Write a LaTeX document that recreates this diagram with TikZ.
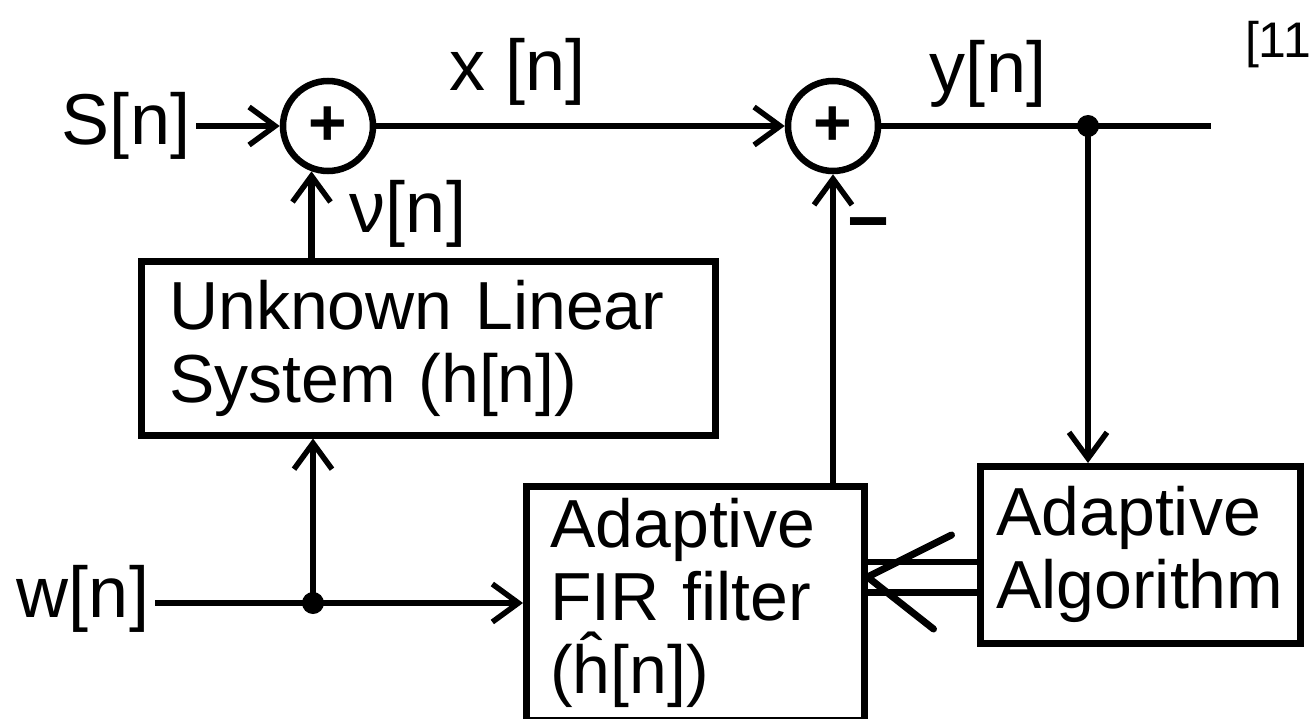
\documentclass[tikz,border=0pt]{standalone}
\usepackage{fontspec}
\setmainfont{Liberation Sans}
\usetikzlibrary{arrows.meta,calc}
\newcommand\blocktext{\fontsize{68}{73}\selectfont}
\newcommand\labeltext{\fontsize{72}{76}\selectfont}
\begin{document}
\begin{tikzpicture}[x=1pt,y=-1pt,
  wire/.style={line width=6.5pt},
  arr/.style={wire,-{Straight Barb[length=26pt,width=38pt,line width=5.5pt]}},
  blk/.style={draw,rectangle,line width=6.5pt,anchor=north west,inner ysep=0pt,align=left,font=\blocktext},
  summer/.style={draw,circle,line width=6.5pt,minimum size=90pt,inner sep=0pt,font=\bfseries\fontsize{66}{66}\selectfont},
  lbl/.style={inner sep=6pt,font=\labeltext},
  junc/.style={circle,fill,minimum size=22pt,inner sep=0pt},
  dblwire/.style={line width=6.5pt,double,double distance=24pt},
  barbhead/.style={line width=7pt,line cap=round,line join=round}]
\useasboundingbox (0,0) rectangle (1313,719);
\clip (0,0) rectangle (1313,719);

% summing junctions and signal labels
\node[lbl] (sin) at (126,126) {S[n]};
\node[summer] (s1) at (328,126) {+};
\node[summer] (s2) at (833,126) {+};
\node[lbl] (xl) at (518,72) {x [n]};
\node[lbl] (yl) at (988,74) {y[n]};
\node[junc] (yj) at (1088,126) {};
\coordinate (yout) at (1211,126);
\node[lbl] (nul) at (408,214) {ν[n]};
\node[lbl,font=\bfseries\labeltext] (minus) at (869,232) {−};
\node[lbl] (wl) at (83,599) {w[n]};
\node[junc] (wj) at (313,603) {};
\node[anchor=east,font=\fontsize{50}{50}\selectfont,inner sep=0pt] (refno) at (1311,45) {[11};

% blocks
\node[blk,inner xsep=28pt,text width=518pt,minimum height=174pt] (unk) at (138,258)
  {Unknown Linear\\System (h[n])};
\node[blk,inner xsep=24pt,text width=290pt,minimum height=234pt] (fir) at (523,483)
  {Adaptive\\FIR filter\\(ĥ[n])};
\node[blk,inner xsep=16pt,text width=288pt,minimum height=177pt] (alg) at (977,463)
  {Adaptive\\Algorithm};

% signal path
\draw[arr] (sin.east) -- (s1.west);
\draw[arr] (s1.east) -- (s2.west);
\draw[wire] (s2.east) -- (yj.center) -- (yout);
\draw[arr] (yj.center) -- (yj |- alg.north);
\draw[arr] (s1.-110 |- unk.north) -- (s1.-110);
\draw[wire] (wl.east |- wj) -- (wj.center);
\draw[arr] (wj.center) -- (wj |- unk.south);
\draw[arr] (wj.center) -- (fir.west |- wj);
\draw[arr] (s2.south |- fir.north) -- (s2.south);

% coefficient update (double arrow)
\coordinate (dbl) at (0,577);
\draw[dblwire] (alg.west |- dbl) -- (fir.east |- dbl);
\draw[barbhead] ($(fir.east |- dbl)+(84,-42)$) -- (fir.east |- dbl) -- ($(fir.east |- dbl)+(66,52)$);
\end{tikzpicture}
\end{document}
